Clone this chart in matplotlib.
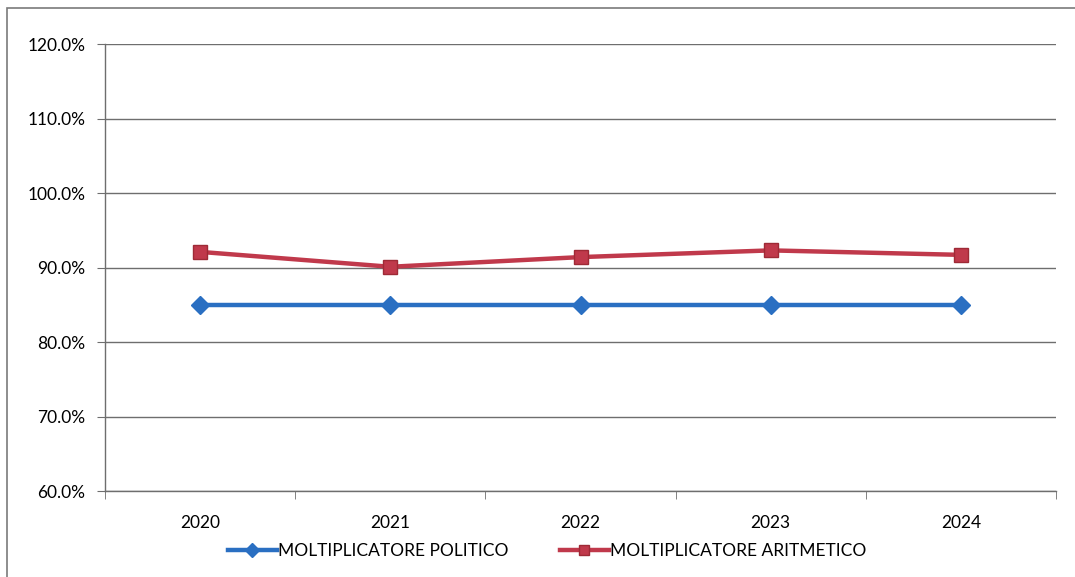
import matplotlib.pyplot as plt
from matplotlib.patches import Rectangle
from matplotlib.ticker import FuncFormatter, FixedLocator

plt.rcParams['font.family'] = ['Lato', 'DejaVu Sans']

anni = ['2020', '2021', '2022', '2023', '2024']
politico = [85.0, 85.0, 85.0, 85.0, 85.0]
aritmetico = [92.1, 90.1, 91.4, 92.3, 91.7]

fig = plt.figure(figsize=(10.75, 5.77), dpi=100)
ax = fig.add_axes([0.0977, 0.149, 0.8846, 0.7747])

# cornice esterna del grafico
fig.patches.append(Rectangle((7 / 1075, -0.01), 1.1, 1 - 8 / 577 + 0.01,
                             transform=fig.transFigure, fill=False,
                             edgecolor='#7a7a7a', linewidth=1.2))

x = list(range(len(anni)))
ax.plot(x, politico, color='#2a6fc2', linewidth=3.2, marker='D', markersize=9,
        markerfacecolor='#2a6fc2', markeredgecolor='#2a6fc2',
        label='MOLTIPLICATORE POLITICO', zorder=3)
ax.plot(x, aritmetico, color='#c0394b', linewidth=3.2, marker='s', markersize=10,
        markerfacecolor='#c0394b', markeredgecolor='#9e2a36',
        label='MOLTIPLICATORE ARITMETICO', zorder=4)

ax.set_xlim(-0.5, len(anni) - 0.5)
ax.set_ylim(60, 120)
ax.set_yticks(range(60, 121, 10))
ax.yaxis.set_major_formatter(FuncFormatter(lambda v, p: f'{v:.1f}%'))
ax.set_xticks(x)
ax.set_xticklabels(anni)
ax.xaxis.set_minor_locator(FixedLocator([i + 0.5 for i in range(-1, len(anni))]))

ax.grid(axis='y', color='#6e6e6e', linewidth=1.0)
ax.set_axisbelow(True)
for s in ['top', 'right']:
    ax.spines[s].set_visible(False)
for s in ['left', 'bottom']:
    ax.spines[s].set_color('#6e6e6e')
    ax.spines[s].set_linewidth(1.0)

ax.tick_params(axis='y', length=6, color='#6e6e6e', labelsize=12.5, pad=8)
ax.tick_params(axis='x', which='major', length=0, labelsize=12.5, pad=17)
ax.tick_params(axis='x', which='minor', length=6, color='#6e6e6e')

fig.legend(*ax.get_legend_handles_labels(), loc='center',
           bbox_to_anchor=(547 / 1075, 1 - 551 / 577), ncol=2, frameon=False,
           fontsize=12.5, handlelength=2.8, handletextpad=0.05, columnspacing=3.0,
           markerscale=0.75)

fig.savefig('out.png', dpi=100, facecolor='white')
